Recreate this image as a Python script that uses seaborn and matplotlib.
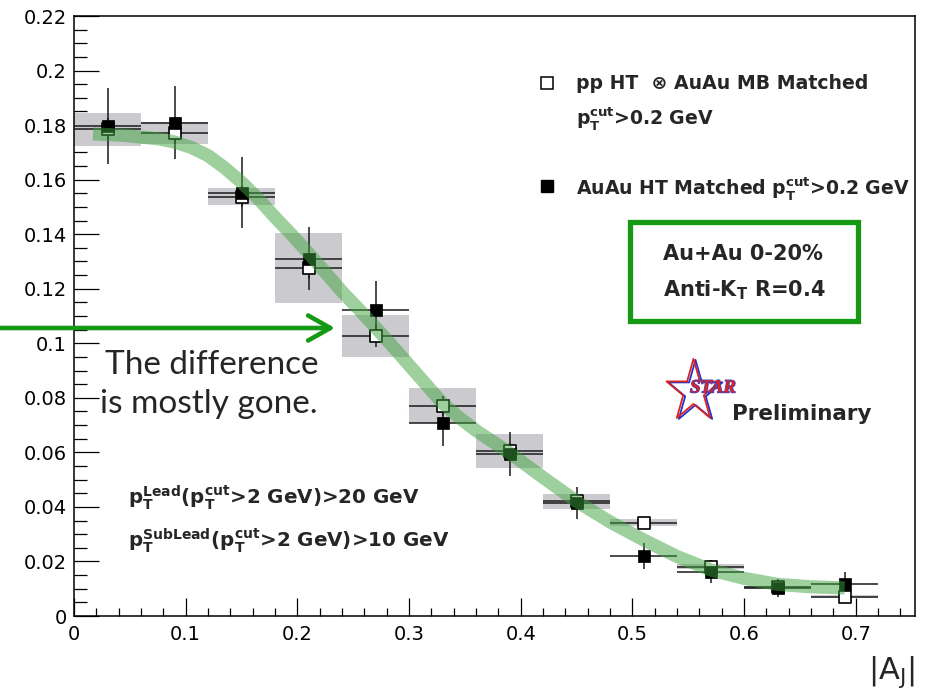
import numpy as np
import pandas as pd
import seaborn as sns
import matplotlib
matplotlib.use("Agg")
import matplotlib.pyplot as plt
from matplotlib.patches import Rectangle
from matplotlib.path import Path
from matplotlib.ticker import MultipleLocator, FuncFormatter
import matplotlib.patheffects as pe

# ---------------- data ----------------
aj_centers = [0.03, 0.09, 0.15, 0.21, 0.27, 0.33, 0.39, 0.45, 0.51, 0.57, 0.63, 0.69]
aj_halfwidth = [0.03] * 12

pp_embed_vals = [0.1785, 0.1772, 0.1538, 0.1275, 0.1027, 0.0771, 0.0605, 0.0420, 0.0342, 0.0181, 0.0105, 0.0071]
pp_embed_stat = [0.004, 0.004, 0.004, 0.004, 0.0042, 0.0037, 0.003, 0.002, 0.0015, 0.0015, 0.001, 0.001]
pp_embed_sys = [0.006, 0.004, 0.003, 0.0128, 0.0077, 0.0064, 0.0062, 0.0027, 0.0012, 0.001, 0.0006, 0.0005]

auau_vals = [0.1797, 0.1809, 0.1552, 0.1310, 0.1122, 0.0707, 0.0595, 0.0415, 0.0220, 0.0163, 0.0103, 0.0116]
auau_stat = [0.014, 0.0135, 0.013, 0.0115, 0.0106, 0.0085, 0.008, 0.0058, 0.0048, 0.0042, 0.0034, 0.0044]

band_x = [0.017, 0.045, 0.075, 0.09, 0.105, 0.12, 0.135, 0.15, 0.165, 0.18, 0.195, 0.21,
          0.225, 0.24, 0.255, 0.27, 0.285, 0.30, 0.315, 0.33, 0.345, 0.36, 0.39, 0.42,
          0.45, 0.48, 0.51, 0.54, 0.57, 0.60, 0.63, 0.66, 0.69]
band_y = [0.1768, 0.1762, 0.1750, 0.1738, 0.1718, 0.1688, 0.1643, 0.1590, 0.1530, 0.1462,
          0.1398, 0.1330, 0.1260, 0.1189, 0.1125, 0.1058, 0.0990, 0.0920, 0.0850, 0.0780,
          0.0727, 0.0680, 0.0598, 0.0508, 0.0420, 0.0345, 0.0279, 0.0218, 0.0169, 0.0138,
          0.0116, 0.0107, 0.0103]

xtick_vals = [0, 0.1, 0.2, 0.3, 0.4, 0.5, 0.6, 0.7]
ytick_vals = [0, 0.02, 0.04, 0.06, 0.08, 0.1, 0.12, 0.14, 0.16, 0.18, 0.2, 0.22]

df = pd.DataFrame({"aj": aj_centers, "open": pp_embed_vals, "open_err": pp_embed_stat,
                   "sys": pp_embed_sys, "filled": auau_vals, "filled_err": auau_stat})
band = pd.DataFrame({"aj": band_x, "val": band_y})

# ---------------- style ----------------
sns.set_style("ticks")
plt.rcParams['font.family'] = ['DejaVu Sans']
plt.rcParams['mathtext.fontset'] = 'dejavusans'

fig = plt.figure(figsize=(9.26, 6.89), dpi=100)
ax = fig.add_axes([74/926, 1-616/689, 841/926, 600/689])

# systematic boxes
ax.bar(df["aj"], 2*df["sys"], bottom=df["open"]-df["sys"], width=0.06,
       color="#cbcbcf", linewidth=0, zorder=1)

# error bars
ax.errorbar(df["aj"], df["open"], xerr=aj_halfwidth, yerr=df["open_err"], fmt='none',
            ecolor="#1a1a1a", elinewidth=1.1, capsize=0, zorder=3)
ax.errorbar(df["aj"], df["filled"], xerr=aj_halfwidth, yerr=df["filled_err"], fmt='none',
            ecolor="#1a1a1a", elinewidth=1.1, capsize=0, zorder=3)

# markers (open first, filled on top)
sns.scatterplot(data=df, x="aj", y="open", marker='s', s=70, facecolor="white",
                edgecolor="black", linewidth=1.2, zorder=4, ax=ax)
sns.scatterplot(data=df, x="aj", y="filled", marker='s', s=80, color="black",
                edgecolor="black", linewidth=0.5, zorder=4.5, ax=ax)

# green fit band
sns.lineplot(data=band, x="aj", y="val", color="#3fa33f", linewidth=9.5, alpha=0.5,
             sort=False, zorder=5, ax=ax, solid_capstyle='butt', solid_joinstyle='round')

ax.set_xlim(0, 0.753)
ax.set_ylim(0, 0.22)
ax.set_xticks(xtick_vals)
ax.set_yticks(ytick_vals)
ax.xaxis.set_minor_locator(MultipleLocator(0.02))
ax.yaxis.set_minor_locator(MultipleLocator(0.005))
fmt = FuncFormatter(lambda v, p: f"{v:.2f}".rstrip('0').rstrip('.'))
ax.xaxis.set_major_formatter(fmt)
ax.yaxis.set_major_formatter(fmt)
ax.tick_params(axis='both', which='both', direction='in', top=False, right=False,
               colors='black', labelcolor='black')
ax.tick_params(axis='y', which='major', length=18, width=0.9, pad=5, labelsize=14)
ax.tick_params(axis='y', which='minor', length=9.4, width=0.9)
ax.tick_params(axis='x', which='major', length=13, width=0.9, pad=6.5, labelsize=14)
ax.tick_params(axis='x', which='minor', length=6, width=0.9)
for s in ax.spines.values():
    s.set_visible(True)
    s.set_color('black')
    s.set_linewidth(1.1)
ax.set_ylabel("")
ax.set_xlabel(r"|A$_\mathrm{J}$|", fontsize=22, loc='right')
ax.xaxis.set_label_coords(1.0, -0.063)
ax.xaxis.label.set_va('top')
ax.xaxis.label.set_ha('right')

# legend (manual)
ax.plot([0.5624], [0.888], marker='s', ms=9, mfc='white', mec='black', mew=1.1,
        transform=ax.transAxes, clip_on=False, ls='none')
ax.plot([0.5624], [0.7167], marker='s', ms=9, mfc='black', mec='black',
        transform=ax.transAxes, clip_on=False, ls='none')
ax.text(0.5964, 0.888, "pp HT  \u2297 AuAu MB Matched", transform=ax.transAxes,
        fontsize=13.6, fontweight='bold', va='center', ha='left')
ax.text(0.5964, 0.830, r"$\mathbf{p}_\mathbf{T}^\mathbf{cut}$>0.2 GeV", transform=ax.transAxes,
        fontsize=13.6, fontweight='bold', va='center', ha='left')
ax.text(0.5964, 0.713, r"AuAu HT Matched $\mathbf{p}_\mathbf{T}^\mathbf{cut}$>0.2 GeV",
        transform=ax.transAxes, fontsize=13.6, fontweight='bold', va='center', ha='left')

# green info box
green = "#169a16"
rect = Rectangle((0.661, 0.4917), 0.271, 0.165, transform=ax.transAxes, facecolor='white',
                 edgecolor=green, linewidth=3.8, zorder=6,
                 path_effects=[pe.SimplePatchShadow(offset=(2, -2), alpha=0.35), pe.Normal()])
ax.add_patch(rect)
ax.text(0.700, 0.603, "Au+Au 0-20%", transform=ax.transAxes, fontsize=15, fontweight='bold',
        va='center', ha='left', zorder=7)
ax.text(0.700, 0.543, r"Anti-K$_\mathbf{T}$ R=0.4", transform=ax.transAxes, fontsize=15,
        fontweight='bold', va='center', ha='left', zorder=7)

# STAR Preliminary logo
ang = np.pi/2 + np.arange(10) * np.pi/5
rad = np.where(np.arange(10) % 2 == 0, 1.0, 0.382)
star_verts = np.column_stack([0.87*rad*np.cos(ang), rad*np.sin(ang)])
star_verts = np.vstack([star_verts, star_verts[:1]])
star_path = Path(star_verts, closed=True)
ax.plot([0.7385], [0.3727], marker=star_path, ms=47, mfc='none', mec='#2233cc', mew=1.3,
        transform=ax.transAxes, clip_on=False, ls='none', zorder=6)
ax.plot([0.736], [0.3757], marker=star_path, ms=47, mfc='none', mec='#dd2222', mew=1.3,
        transform=ax.transAxes, clip_on=False, ls='none', zorder=6)
ax.text(0.7325, 0.380, "STAR", transform=ax.transAxes, fontsize=13.5, color='#dd2222',
        family='Liberation Serif', style='italic', fontweight='bold', va='center', ha='left',
        zorder=7, path_effects=[pe.withStroke(linewidth=1.0, foreground='#3344cc')])
ax.text(0.7824, 0.337, "Preliminary", transform=ax.transAxes, fontsize=15.5,
        fontweight='bold', va='center', ha='left', zorder=7)

# cut text
ax.text(0.064, 0.198, r"$\mathbf{p}_\mathbf{T}^\mathbf{Lead}$($\mathbf{p}_\mathbf{T}^\mathbf{cut}$>2 GeV)>20 GeV",
        transform=ax.transAxes, fontsize=14.3, fontweight='bold', va='center', ha='left')
ax.text(0.064, 0.125, r"$\mathbf{p}_\mathbf{T}^\mathbf{SubLead}$($\mathbf{p}_\mathbf{T}^\mathbf{cut}$>2 GeV)>10 GeV",
        transform=ax.transAxes, fontsize=14.3, fontweight='bold', va='center', ha='left')

# annotation text and arrow
ax.text(0.0369, 0.418, "The difference", transform=ax.transAxes, fontsize=24,
        family='Lato', va='center', ha='left', zorder=7)
ax.text(0.031, 0.353, "is mostly gone.", transform=ax.transAxes, fontsize=24,
        family='Lato', va='center', ha='left', zorder=7)
ax.annotate("", xy=(335, 689-328), xytext=(0, 689-328), xycoords='figure pixels',
            textcoords='figure pixels',
            arrowprops=dict(arrowstyle='->,head_length=0.8,head_width=0.45', color=green,
                            lw=3.3, mutation_scale=20, shrinkA=0, shrinkB=0), zorder=8)

fig.savefig("out.png", dpi=100)
